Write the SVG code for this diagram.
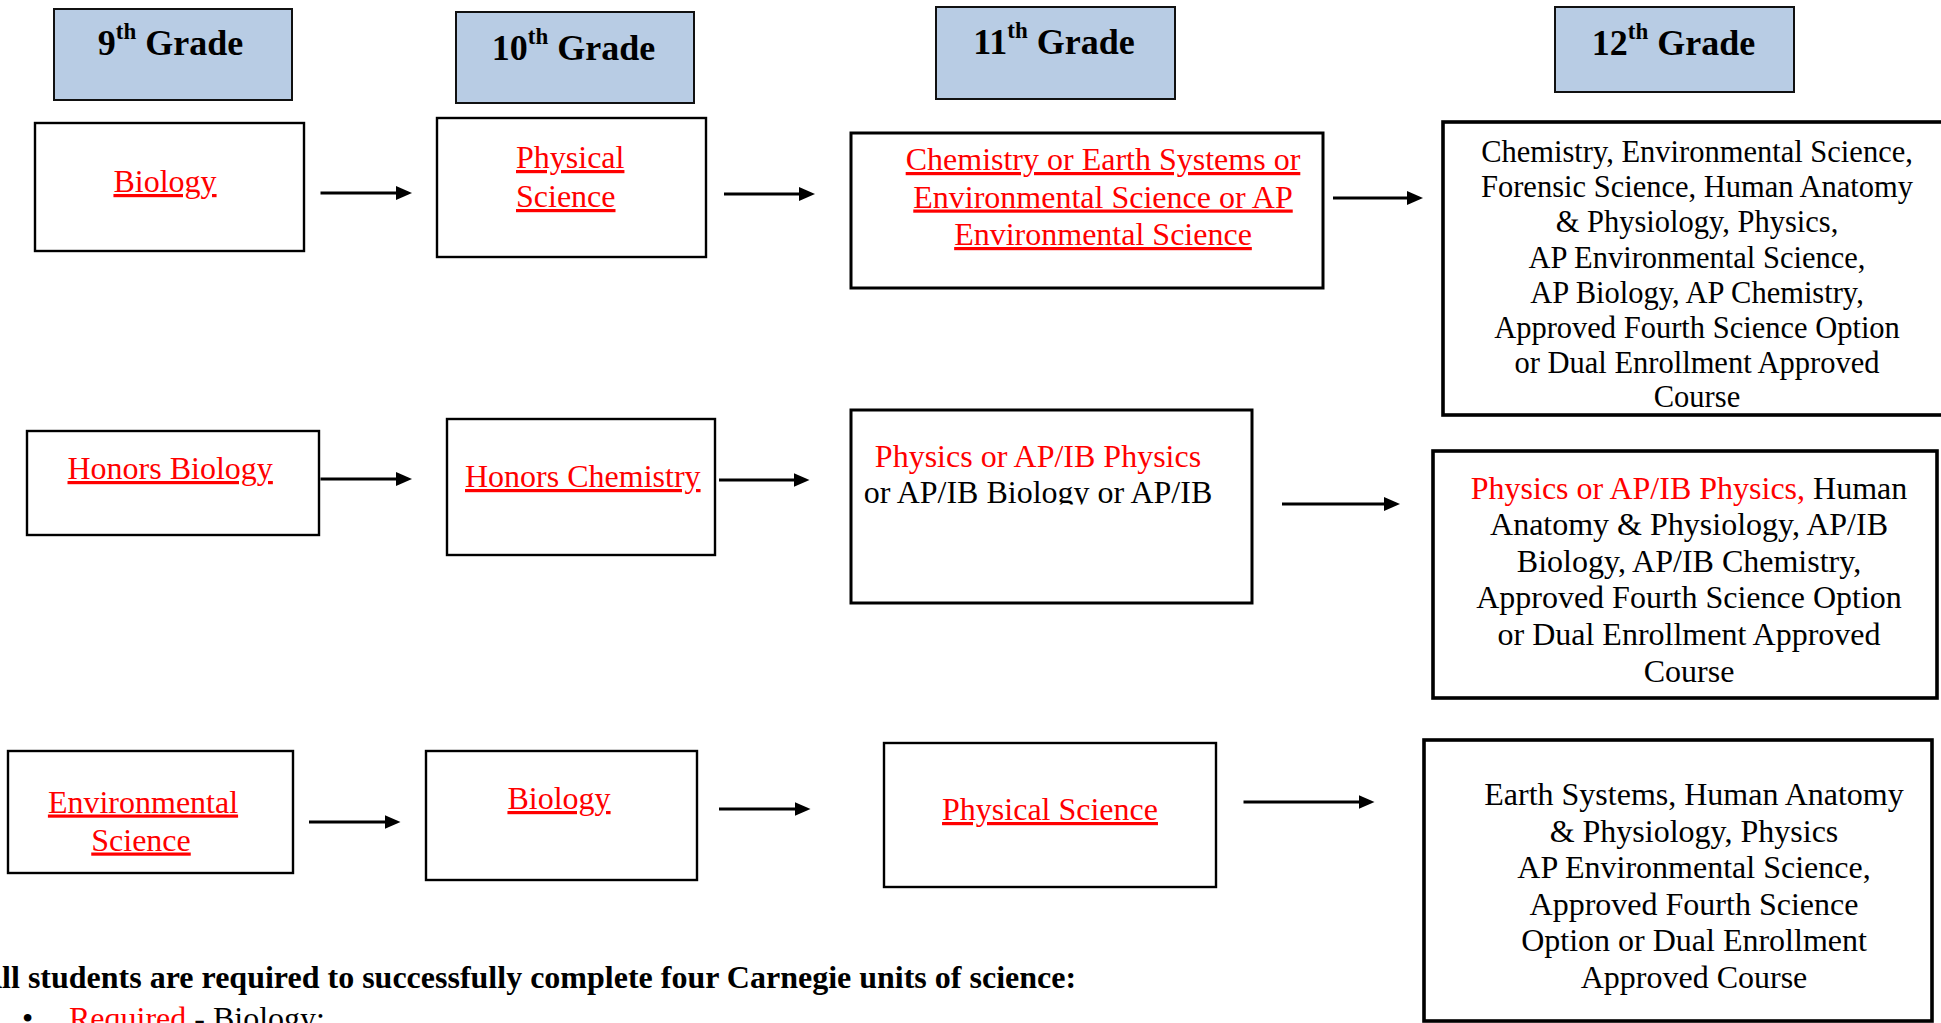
<svg xmlns="http://www.w3.org/2000/svg" width="1941" height="1023" viewBox="0 0 1941 1023">
<style>
text{font-family:"Liberation Serif","Times New Roman",serif;}
.hdrbox{fill:#b8cce4;stroke:#111;stroke-width:2;}
.hdr{font-size:36px;font-weight:bold;fill:#000;}
.sup{font-size:23px;}
.box{fill:#fff;stroke:#000;stroke-width:2.4;}
.box3{fill:#fff;stroke:#000;stroke-width:3;}
.box4{fill:#fff;stroke:#000;stroke-width:3.6;}
.lnk{font-size:32px;fill:#ff0000;text-decoration:underline;}
.blk{font-size:32px;fill:#000;}
.small{font-size:30.5px;fill:#000;}
.mid{text-anchor:middle;}
.red{fill:#ff0000;}
.conn{stroke:#000;stroke-width:3;fill:none;marker-end:url(#ah);}
.note{font-size:32px;font-weight:bold;fill:#000;}
</style>
<defs>
<marker id="ah" markerUnits="userSpaceOnUse" markerWidth="16" markerHeight="14" refX="6" refY="7" orient="auto">
<path d="M0,0 L16,7 L0,14 z" fill="#000"/>
</marker>
<clipPath id="clip11b"><rect x="840" y="400" width="420" height="104.5"/></clipPath>
</defs>
<rect width="1941" height="1023" fill="#fff"/>

<g id="hdr9"><rect class="hdrbox" x="54" y="9" width="238" height="91"/><text class="hdr mid" x="170.5" y="55">9<tspan class="sup" dy="-16">th</tspan><tspan dy="16"> Grade</tspan></text></g>
<g id="hdr10"><rect class="hdrbox" x="456" y="12" width="238" height="91"/><text class="hdr mid" x="573.5" y="60">10<tspan class="sup" dy="-16">th</tspan><tspan dy="16"> Grade</tspan></text></g>
<g id="hdr11"><rect class="hdrbox" x="936" y="7" width="239" height="92"/><text class="hdr mid" x="1054" y="54">11<tspan class="sup" dy="-16">th</tspan><tspan dy="16"> Grade</tspan></text></g>
<g id="hdr12"><rect class="hdrbox" x="1555" y="7" width="239" height="85"/><text class="hdr mid" x="1673.5" y="55">12<tspan class="sup" dy="-16">th</tspan><tspan dy="16"> Grade</tspan></text></g>

<g id="r1c1"><rect class="box" x="35" y="123" width="269" height="128"/><text class="lnk mid" x="165" y="192">Biology</text></g>
<g id="r1c2"><rect class="box" x="437" y="118" width="269" height="139"/><text class="lnk" x="516" y="168">Physical</text><text class="lnk" x="516" y="207">Science</text></g>
<g id="r1c3"><rect class="box3" x="851" y="133" width="472" height="155"/>
<text class="lnk mid" x="1103" y="170">Chemistry or Earth Systems or</text>
<text class="lnk mid" x="1103" y="207.5">Environmental Science or AP</text>
<text class="lnk mid" x="1103" y="245">Environmental Science</text></g>
<g id="r1c4"><rect class="box4" x="1443" y="122" width="509" height="293"/>
<text class="small mid" x="1697" y="162">Chemistry, Environmental Science,</text>
<text class="small mid" x="1697" y="197">Forensic Science, Human Anatomy</text>
<text class="small mid" x="1697" y="232">&amp; Physiology, Physics,</text>
<text class="small mid" x="1697" y="267.5">AP Environmental Science,</text>
<text class="small mid" x="1697" y="302.5">AP Biology, AP Chemistry,</text>
<text class="small mid" x="1697" y="337.5">Approved Fourth Science Option</text>
<text class="small mid" x="1697" y="372.5">or Dual Enrollment Approved</text>
<text class="small mid" x="1697" y="407">Course</text></g>

<g id="r2c1"><rect class="box" x="27" y="431" width="292" height="104"/><text class="lnk" x="67.5" y="479">Honors Biology</text></g>
<g id="r2c2"><rect class="box" x="447" y="419" width="268" height="136"/><text class="lnk" x="465" y="487">Honors Chemistry</text></g>
<g id="r2c3"><rect class="box3" x="851" y="410" width="401" height="193"/>
<text class="blk mid red" x="1038" y="466.5">Physics or AP/IB Physics</text>
<text class="blk mid" x="1038" y="503" clip-path="url(#clip11b)">or AP/IB Biology or AP/IB</text></g>
<g id="r2c4"><rect class="box4" x="1433" y="451" width="504" height="247"/>
<text class="blk mid" x="1689" y="498.5"><tspan class="red">Physics or AP/IB Physics,</tspan> Human</text>
<text class="blk mid" x="1689" y="535">Anatomy &amp; Physiology, AP/IB</text>
<text class="blk mid" x="1689" y="571.5">Biology, AP/IB Chemistry,</text>
<text class="blk mid" x="1689" y="608">Approved Fourth Science Option</text>
<text class="blk mid" x="1689" y="645">or Dual Enrollment Approved</text>
<text class="blk mid" x="1689" y="681.5">Course</text></g>

<g id="r3c1"><rect class="box" x="8" y="751" width="285" height="122"/><text class="lnk mid" x="143" y="812.5">Environmental</text><text class="lnk mid" x="141" y="850.5">Science</text></g>
<g id="r3c2"><rect class="box" x="426" y="751" width="271" height="129"/><text class="lnk mid" x="559" y="809">Biology</text></g>
<g id="r3c3"><rect class="box" x="884" y="743" width="332" height="144"/><text class="lnk mid" x="1050" y="820">Physical Science</text></g>
<g id="r3c4"><rect class="box4" x="1424" y="740" width="508" height="281"/>
<text class="blk mid" x="1694" y="805">Earth Systems, Human Anatomy</text>
<text class="blk mid" x="1694" y="841.5">&amp; Physiology, Physics</text>
<text class="blk mid" x="1694" y="878">AP Environmental Science,</text>
<text class="blk mid" x="1694" y="914.5">Approved Fourth Science</text>
<text class="blk mid" x="1694" y="951">Option or Dual Enrollment</text>
<text class="blk mid" x="1694" y="987.5">Approved Course</text></g>

<g id="connectors">
<line class="conn" x1="320.5" y1="193" x2="402" y2="193"/>
<line class="conn" x1="724" y1="194" x2="805" y2="194"/>
<line class="conn" x1="1333" y1="198" x2="1413" y2="198"/>
<line class="conn" x1="320.5" y1="479" x2="402" y2="479"/>
<line class="conn" x1="719" y1="480" x2="799.5" y2="480"/>
<line class="conn" x1="1282" y1="504" x2="1390" y2="504"/>
<line class="conn" x1="309" y1="822" x2="390.5" y2="822"/>
<line class="conn" x1="719" y1="809" x2="800.5" y2="809"/>
<line class="conn" x1="1243.5" y1="802" x2="1364.5" y2="802"/>
</g>

<g id="note">
<text class="note" x="-21" y="988">All students are required to successfully complete four Carnegie units of science:</text>
<text class="blk" x="22" y="1029">•</text>
<text class="blk" x="69" y="1029"><tspan class="red" text-decoration="underline">Required</tspan> - Biology;</text>
</g>
</svg>
